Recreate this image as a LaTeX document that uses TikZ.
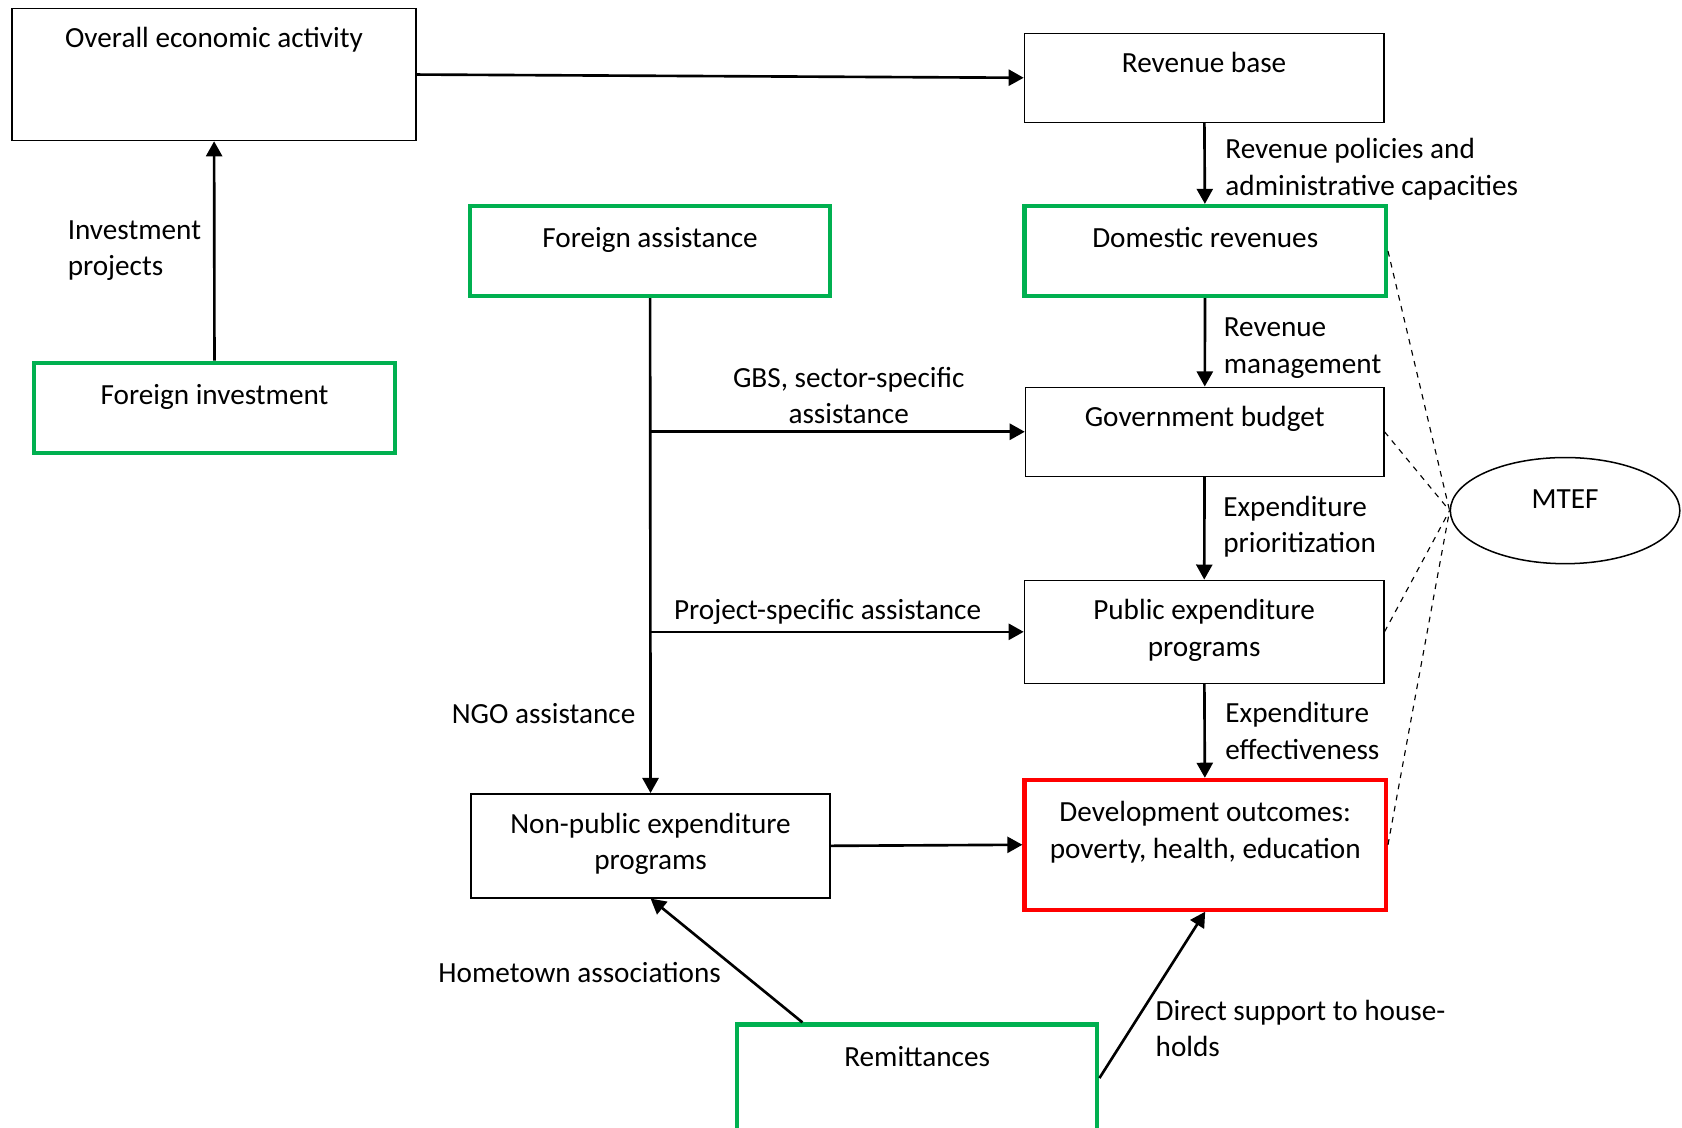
\documentclass[tikz,border=0pt]{standalone}
\usepackage{fontspec}
\setmainfont{Carlito}
\usepackage{xcolor}
\usepackage{tikz}
\usetikzlibrary{shapes.geometric, arrows.meta}

\definecolor{boxgreen}{RGB}{0,176,80}
\definecolor{boxred}{RGB}{255,0,0}

\tikzset{
  box/.style={draw, rectangle, line width=0.8pt, inner sep=0pt},
  greenbox/.style={box, draw=boxgreen, line width=2.2pt},
  redbox/.style={box, draw=boxred, line width=2.2pt},
  head/.style={anchor=north, align=center, yshift=-7pt},
  greenhead/.style={head, yshift=-2pt},
  flow/.style={-{Triangle[length=8pt, width=8.5pt]}, line width=1.4pt},
  mtefline/.style={dashed, line width=0.6pt},
}

\begin{document}
\begin{tikzpicture}[x=0.02cm, y=-0.02cm, font=\fontsize{15.5}{19.3}\selectfont]
        \useasboundingbox (0,0) rectangle (1568,1051);

        \node (Overall) [box, minimum width=7.54cm, minimum height=2.46cm, label={[head]north:Overall economic activity}] at (199.5,69.5) {};
        \node (RevBase) [box, minimum width=6.70cm, minimum height=1.66cm, label={[head]north:Revenue base}] at (1122.5,72.5) {};
        \node (ForeignAid) [greenbox, minimum width=6.72cm, minimum height=1.68cm, label={[greenhead]north:Foreign assistance}] at (606,234) {};
        \node (DomRev) [greenbox, minimum width=6.74cm, minimum height=1.68cm, label={[greenhead]north:Domestic revenues}] at (1123.5,234) {};
        \node (ForeignInv) [greenbox, minimum width=6.72cm, minimum height=1.68cm, label={[greenhead]north:Foreign investment}] at (200,380) {};
        \node (Budget) [box, minimum width=6.68cm, minimum height=1.66cm, label={[head]north:Government budget}] at (1123,402.5) {};
        \node (MTEF) [ellipse, draw, line width=0.8pt, inner sep=0pt, minimum width=4.28cm, minimum height=1.98cm, text depth=12pt] at (1459,476) {MTEF};
        \node (PubProg) [box, minimum width=6.70cm, minimum height=1.92cm, label={[head]north:{Public expenditure\\programs}}] at (1122.5,589) {};
        \node (NonPubProg) [box, minimum width=6.70cm, minimum height=1.94cm, label={[head]north:{Non-public expenditure\\programs}}] at (606.5,788.5) {};
        \node (Outcomes) [redbox, minimum width=6.74cm, minimum height=2.42cm, label={[greenhead]north:{Development outcomes:\\poverty, health, education}}] at (1123.5,787.5) {};
        \node (Remit) [greenbox, minimum width=6.72cm, minimum height=2.0cm, label={[greenhead]north:Remittances}] at (855,1005) {};

        \draw [flow] (Overall.east) -- (RevBase.west);
        \draw [flow] (ForeignInv) -- node[left, align=left, xshift=-3pt] {Investment\\projects} (Overall);
        \draw [flow] (RevBase) -- node[right, align=left, xshift=7pt, yshift=-3pt] {Revenue policies and\\administrative capacities} (DomRev);
        \draw [flow] (DomRev) -- node[right, align=left, xshift=6pt, yshift=-3pt] {Revenue\\management} (Budget);
        \draw [flow] (Budget) -- node[right, align=left, xshift=6pt, yshift=1pt] {Expenditure\\prioritization} (PubProg);
        \draw [flow] (PubProg) -- node[right, align=left, xshift=7pt] {Expenditure\\effectiveness} (Outcomes);
        \draw [flow] (ForeignAid) -- node[left, pos=0.84, xshift=-4pt] {NGO assistance} (NonPubProg);
        \draw [flow] (ForeignAid.south |- Budget.west) -- node[above, align=center, pos=0.53] {GBS, sector-specific\\assistance} (Budget.west);
        \draw [flow] (ForeignAid.south |- PubProg.west) -- node[above, pos=0.475] {Project-specific assistance} (PubProg.west);
        \draw [flow] (NonPubProg.east) -- (Outcomes.west);
        \draw [flow] ([xshift=-2.14cm]Remit.north) -- node[left, pos=0.4, xshift=-7pt] {Hometown associations} (NonPubProg.south);
        \draw [flow] (Remit.east) -- node[right, pos=0.3, align=left, xshift=9pt] {Direct support to house-\\holds} (Outcomes.south);

        \draw [mtefline] (DomRev.east) -- (MTEF.west);
        \draw [mtefline] (Budget.east) -- (MTEF.west);
        \draw [mtefline] (PubProg.east) -- (MTEF.west);
        \draw [mtefline] (Outcomes.east) -- (MTEF.west);
\end{tikzpicture}
\end{document}
